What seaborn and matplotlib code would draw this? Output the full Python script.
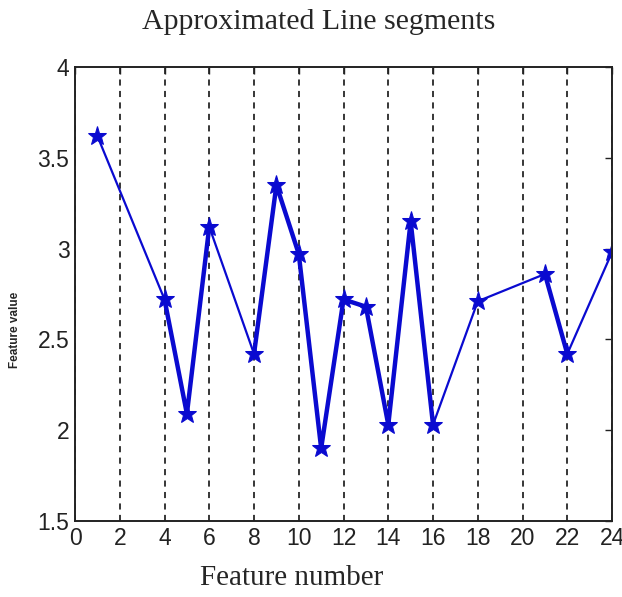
import pandas as pd
import seaborn as sns
import matplotlib.pyplot as plt

# data
feature_number = [1, 4, 5, 6, 8, 9, 10, 11, 12, 13, 14, 15, 16, 18, 21, 22, 24]
feature_value = [3.62, 2.72, 2.09, 3.12, 2.42, 3.35, 2.97, 1.90, 2.72, 2.68,
                 2.03, 3.15, 2.03, 2.71, 2.86, 2.42, 2.98]

x_ticks = list(range(0, 25, 2))
y_ticks = [1.5, 2, 2.5, 3, 3.5, 4]
y_tick_labels = ["1.5", "2", "2.5", "3", "3.5", "4"]

BLUE = "#0a0ad0"

df = pd.DataFrame({"feature": feature_number, "value": feature_value})
# runs of consecutive features are drawn heavier in the reference
df["run"] = (df["feature"].diff() != 1).cumsum()
runs = df[df.groupby("run")["run"].transform("size") > 1]

sns.set_style("white")
fig = plt.figure(figsize=(6.22, 5.97), dpi=100)
ax = fig.add_axes([0.1206, 0.1273, 0.8634, 0.7605])

sns.lineplot(data=df, x="feature", y="value", color=BLUE, lw=1.6,
             marker="*", markersize=14, markeredgecolor=BLUE, ax=ax,
             estimator=None, sort=False)
sns.lineplot(data=runs, x="feature", y="value", units="run", color=BLUE,
             lw=3.2, estimator=None, sort=False, ax=ax)

ax.set_xlim(0, 24)
ax.set_ylim(1.5, 4)
ax.set_xticks(x_ticks)
ax.set_yticks(y_ticks)
ax.set_yticklabels(y_tick_labels)
ax.grid(axis="x", color="black", ls=(0, (4, 3.5)), lw=1.1)
ax.grid(axis="y", visible=False)

for s in ax.spines.values():
    s.set_color("#222222")
    s.set_linewidth(1.4)
    s.set_visible(True)

ax.tick_params(direction="in", length=5, width=1, top=True, right=True,
               labelsize=16.5, pad=4, colors="#222222")
for lab in ax.get_xticklabels() + ax.get_yticklabels():
    lab.set_family("Liberation Sans")

fig.text(319 / 622, 1 - 22 / 597, "Approximated Line segments",
         family="Liberation Serif", fontsize=21.5, ha="center", va="center")
ax.set_xlabel("Feature number", family="Liberation Serif", fontsize=21,
              va="center")
ax.xaxis.set_label_coords((292 - 75) / 537, -(578 - 521) / 454)
ax.set_ylabel("Feature value", family="Liberation Sans", fontsize=8.5,
              fontweight="bold", va="center")
ax.yaxis.set_label_coords((15 - 75) / 537, (521 - 330) / 454)

fig.savefig("out.png", dpi=100)
